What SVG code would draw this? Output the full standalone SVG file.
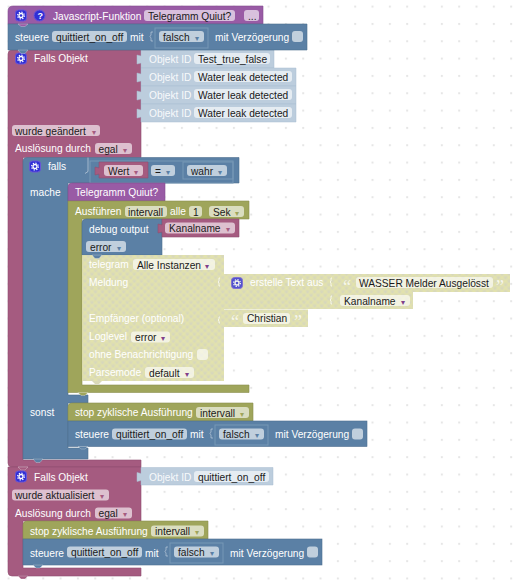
<svg xmlns="http://www.w3.org/2000/svg" width="525" height="580" viewBox="0 0 525 580">
<style>
text{font-family:"Liberation Sans",Arial,sans-serif;font-size:10.2px;fill:#fff}
text.d{fill:#1a1a1a}
.fld{fill:#fff;fill-opacity:.62}
.a{font-size:8px;font-family:"DejaVu Sans",sans-serif}
.ap{fill:#a55b80}.ab{fill:#5b80a5}.ao{fill:#9fa55b}.ay{fill:#80408a}
.pk{fill:#a55b80;stroke:#8f4f6f;stroke-width:.6}
.bl{fill:#5b80a5;stroke:#4f6f8f;stroke-width:.6}
.ol{fill:#9fa55b;stroke:#8a8f4f;stroke-width:.6}
.pu{fill:#995ba5;stroke:#854f8f;stroke-width:.6}
.lb{fill:#bccddd;stroke:#a9bdd0;stroke-width:.5}
.hat{fill:url(#h);opacity:.9}
.frame{fill:none;stroke:#7797b6;stroke-width:1}
.q{font-family:"Liberation Serif",serif;font-size:18px;fill:#fff;fill-opacity:.75}
.t{stroke:#fff;stroke-opacity:.45;stroke-width:.6}
</style>
<defs>
<pattern id="h" width="5" height="5" patternUnits="userSpaceOnUse" patternTransform="rotate(45)">
<rect width="5" height="5" fill="#d3d3b4"/>
<rect width="2.5" height="5" fill="#e4e49c" opacity=".45"/>
<rect width="5" height="2.5" fill="#e4e49c" opacity=".45"/>
</pattern>
<pattern id="g" width="17.33" height="17.33" patternUnits="userSpaceOnUse" x="7.6" y="5.6">
<rect width="2" height="2" fill="#e6e6e6"/>
</pattern>
<g id="gear">
<rect x="-5.5" y="-5.5" width="11" height="11" rx="3" fill="#2f2fd6" stroke="#6a55d8" stroke-width="1"/>
<circle r="3.4" fill="none" stroke="#fff" stroke-width="1.2" stroke-dasharray="1.3 1.37"/>
<circle r="2" fill="none" stroke="#fff" stroke-width="1.3"/>
</g>
</defs>
<rect width="525" height="580" fill="#fff"/>
<rect width="525" height="580" fill="url(#g)"/>
<g id="falls1">
<path class="pk" d="M8 54Q8 50 12 50H141V157.5H23V460H141V467H12Q8 467 8 463Z"/>
<path class="t pk" d="M18 467l3 3.5h4l3-3.5z"/>
<path class="lb" d="M141 50H274V68H141V63L137 64V55L141 56Z"/>
<path class="lb" d="M141 68H296V86H141V81L137 82V73L141 74Z"/>
<path class="lb" d="M141 86H296V104H141V99L137 100V91L141 92Z"/>
<path class="lb" d="M141 104H296V122H141V117L137 118V109L141 110Z"/>
<use href="#gear" x="21" y="58.5"/>
<text x="34" y="62">Falls Objekt</text>
<text x="149" y="62.5" opacity=".9">Objekt ID</text><rect class="fld" x="194" y="53" width="76" height="11" rx="3"/><text class="d" x="198" y="62.5">Test_true_false</text>
<text x="149" y="80.5" opacity=".9">Objekt ID</text><rect class="fld" x="194" y="71" width="98" height="11" rx="3"/><text class="d" x="198" y="80.5">Water leak detected</text>
<text x="149" y="98.5" opacity=".9">Objekt ID</text><rect class="fld" x="194" y="89" width="98" height="11" rx="3"/><text class="d" x="198" y="98.5">Water leak detected</text>
<text x="149" y="116.5" opacity=".9">Objekt ID</text><rect class="fld" x="194" y="107" width="98" height="11" rx="3"/><text class="d" x="198" y="116.5">Water leak detected</text>
<rect class="fld" x="12" y="125" width="88" height="11" rx="3"/><text x="15" y="134.5" class="d">wurde geändert<tspan class="a ap" x="92">▾</tspan></text>
<text x="15" y="152">Auslösung durch</text><rect class="fld" x="95" y="143" width="37" height="11" rx="3"/><text class="d" x="98.5" y="152.5">egal<tspan class="a ap" x="123">▾</tspan></text>
</g>
<g id="js">
<path class="pu" d="M8 11Q8 6 13 6H263V24H8Z"/>
<use href="#gear" x="21" y="15.5"/>
<circle cx="39.5" cy="15.5" r="5.5" fill="#2f2fd6" stroke="#6a55d8"/>
<text x="37.5" y="19" font-weight="bold" style="font-size:9px">?</text>
<text x="53" y="19.5">Javascript-Funktion</text>
<rect class="fld" x="144" y="10" width="91" height="11" rx="3"/><text class="d" x="148" y="19.5">Telegramm Quiut?</text>
<rect class="fld" x="244" y="10" width="15" height="11" rx="3"/><text class="d" x="248" y="19.5">...</text>
</g>
<g id="steuere1">
<path class="bl" d="M8 24H307V50H8Z"/>
<path class="t pu" d="M18 24l3 2.5h4l3-2.5z"/>
<text x="15" y="40.5">steuere</text>
<rect class="fld" x="52" y="31" width="75" height="11" rx="3"/><text class="d" x="56" y="40.5">quittiert_on_off</text>
<text x="130" y="40.5">mit</text>
<path d="M153 32h-2v3l-1 1.5 1 1.5v3h2" fill="none" stroke="#fff" stroke-opacity=".4"/>
<rect class="frame" x="155" y="28" width="53" height="20"/>
<rect class="fld" x="159" y="31" width="45" height="11" rx="3"/><text class="d" x="163" y="40.5">falsch<tspan class="a ab" x="195">▾</tspan></text>
<text x="215" y="40.5">mit Verzögerung</text>
<rect class="fld" x="292" y="31" width="11" height="11" rx="3"/>
<path class="t bl" d="M18 50l3 3.5h4l3-3.5z"/>
</g>
<g id="falls">
<path class="bl" d="M23 161Q23 157.5 27 157.5H239V183H68V395H88V403H68V448H88V459H23Z"/>
<path class="t bl" d="M33 459l3 3.5h4l3-3.5z"/>
<use href="#gear" x="35" y="166.5"/>
<text x="48" y="170">falls</text>
<path d="M88 157.5v14l-3 2" fill="none" stroke="#fff" stroke-opacity=".45"/>
<rect x="90" y="161" width="143" height="22" fill="none" stroke="#7797b6"/>
<path class="pk" d="M99 162H148V178H99V174L95 175V167L99 168Z"/>
<rect class="fld" x="104" y="165" width="39" height="11" rx="3"/><text class="d" x="108" y="174.5">Wert<tspan class="a ap" x="134">▾</tspan></text>
<rect class="fld" x="151" y="165" width="24" height="11" rx="3"/><text class="d" x="155" y="174.5">=<tspan class="a ab" x="166">▾</tspan></text>
<rect class="frame" x="183" y="162" width="50" height="17"/>
<rect class="fld" x="187" y="165" width="40" height="11" rx="3"/><text class="d" x="191" y="174.5">wahr<tspan class="a ab" x="218">▾</tspan></text>
<text x="30" y="196">mache</text><text x="30" y="416">sonst</text>
</g>
<g id="tq">
<path class="pu" d="M68 187Q68 183 72 183H165V201H68Z"/>
<text x="75" y="196">Telegramm Quiut?</text>
</g>
<g id="ausf">
<path class="ol" d="M68 201H249V219H82V385H249V392.5H68Z"/>
<path class="t ol" d="M78 392.5l3 3h4l3-3z"/>
<text x="75" y="215">Ausführen</text>
<rect class="fld" x="125" y="206" width="42" height="11" rx="3"/><text class="d" x="128" y="215.5">intervall</text>
<text x="170" y="215">alle</text>
<rect class="fld" x="189" y="206" width="13" height="11" rx="3"/><text class="d" x="193" y="215.5">1</text>
<rect class="fld" x="209" y="206" width="35" height="11" rx="3"/><text class="d" x="213" y="215.5">Sek<tspan class="a ao" x="235">▾</tspan></text>
</g>
<g id="debug">
<path class="bl" d="M86 219H162V255H82V223Q82 219 86 219Z"/>
<text x="89" y="232.5">debug output</text>
<path class="pk" d="M162 219H239V237H162V232L158 233V224L162 225Z"/>
<rect class="fld" x="165" y="222.5" width="70" height="11" rx="3"/><text class="d" x="169" y="232">Kanalname<tspan class="a ap" x="226">▾</tspan></text>
<rect class="fld" x="86" y="241" width="40" height="11" rx="3"/><text class="d" x="90" y="250.5">error<tspan class="a ab" x="117">▾</tspan></text>
</g>
<g id="tele">
<rect class="hat" x="82" y="255" width="142" height="126"/>
<path class="t bl" d="M92 255l3 3.5h4l3-3.5z"/>
<path d="M92 381l3 3h4l3-3z" fill="#d9d9b8"/>
<text x="89" y="268">telegram</text>
<rect class="fld" x="133" y="259" width="82" height="11" rx="3"/><text class="d" x="137" y="268.5">Alle Instanzen<tspan class="a ay" x="205">▾</tspan></text>
<text x="89" y="286">Meldung</text>
<text x="89" y="322">Empfänger (optional)</text>
<text x="89" y="340">Loglevel</text>
<rect class="fld" x="131" y="331.5" width="39" height="11" rx="3"/><text class="d" x="135" y="341">error<tspan class="a ay" x="161">▾</tspan></text>
<text x="89" y="358">ohne Benachrichtigung</text>
<rect class="fld" x="197" y="349" width="11" height="11" rx="3"/>
<text x="89" y="376">Parsemode</text>
<rect class="fld" x="145" y="367" width="49" height="11" rx="3"/><text class="d" x="149" y="376.5">default<tspan class="a ay" x="185">▾</tspan></text>
</g>
<g id="etxt">
<rect class="hat" x="224" y="274" width="113" height="35"/>
<use href="#gear" x="237" y="283" opacity=".8"/>
<text x="250" y="286">erstelle Text aus</text>
<rect class="hat" x="337" y="274" width="173" height="18"/>
<text class="q" x="343" y="293">“</text>
<rect class="fld" x="356" y="277" width="137" height="11" rx="3"/><text class="d" x="359" y="286.5">WASSER Melder Ausgelösst</text>
<text class="q" x="496" y="293">”</text>
<rect class="hat" x="337" y="292" width="76" height="17"/>
<rect class="fld" x="340" y="295" width="70" height="11" rx="3"/><text class="d" x="344" y="304.5">Kanalname<tspan class="a ay" x="401">▾</tspan></text>
</g>
<g id="chr">
<rect class="hat" x="224" y="309.5" width="84" height="17.5"/>
<text class="q" x="231" y="328">“</text>
<rect class="fld" x="243" y="313" width="47" height="11" rx="3"/><text class="d" x="247" y="322">Christian</text>
<text class="q" x="294" y="328">”</text>
</g>
<g id="stop1">
<path class="ol" d="M72 403H253V421H68V407Q68 403 72 403Z"/>
<text x="75" y="416">stop zyklische Ausführung</text>
<rect class="fld" x="196" y="407" width="53" height="11" rx="3"/><text class="d" x="200" y="416.5">intervall<tspan class="a ao" x="240">▾</tspan></text>
</g>
<g id="steuere2">
<rect class="bl" x="68" y="421" width="299" height="25.5"/>
<path class="t bl" d="M78 446.5l3 2.5h4l3-2.5z"/>
<text x="75" y="438">steuere</text>
<rect class="fld" x="112" y="428.5" width="75" height="11" rx="3"/><text class="d" x="116" y="438">quittiert_on_off</text>
<text x="190" y="438">mit</text>
<path d="M213 429h-2v3l-1 1.5 1 1.5v3h2" fill="none" stroke="#fff" stroke-opacity=".4"/>
<rect class="frame" x="215" y="425" width="53" height="20"/>
<rect class="fld" x="219" y="428.5" width="45" height="11" rx="3"/><text class="d" x="223" y="438">falsch<tspan class="a ab" x="255">▾</tspan></text>
<text x="275" y="438">mit Verzögerung</text>
<rect class="fld" x="352" y="428.5" width="11" height="11" rx="3"/>
</g>
<g id="falls2">
<path class="pk" d="M8 467H141V521H23V568H141V576H12Q8 576 8 572Z"/>
<path class="t pk" d="M18 467l3 3h4l3-3z"/>
<path class="t pk" d="M18 576l3 3h4l3-3z"/>
<use href="#gear" x="21" y="476.5"/>
<text x="34" y="480.5">Falls Objekt</text>
<path class="lb" d="M141 467.5H273V485H141V480.5L137 481.5V472.5L141 473.5Z"/>
<text x="149" y="480.5" opacity=".9">Objekt ID</text>
<rect class="fld" x="194" y="471" width="75" height="11" rx="3"/><text class="d" x="198" y="480.5">quittiert_on_off</text>
<rect class="fld" x="12" y="489.5" width="97" height="11" rx="3"/><text class="d" x="15" y="499">wurde aktualisiert<tspan class="a ap" x="100">▾</tspan></text>
<text x="15" y="516.5">Auslösung durch</text>
<rect class="fld" x="95" y="507.5" width="37" height="11" rx="3"/><text class="d" x="98.5" y="517">egal<tspan class="a ap" x="123">▾</tspan></text>
</g>
<g id="stop2">
<path class="ol" d="M27 521H208V539H23V525Q23 521 27 521Z"/>
<text x="30" y="534.5">stop zyklische Ausführung</text>
<rect class="fld" x="151" y="525.5" width="53" height="11" rx="3"/><text class="d" x="155" y="535">intervall<tspan class="a ao" x="195">▾</tspan></text>
</g>
<g id="steuere3">
<rect class="bl" x="23" y="539" width="299" height="26"/>
<path class="t bl" d="M33 565l3 3h4l3-3z"/>
<text x="30" y="556.5">steuere</text>
<rect class="fld" x="67" y="546.5" width="75" height="11" rx="3"/><text class="d" x="71" y="556">quittiert_on_off</text>
<text x="145" y="556.5">mit</text>
<path d="M168 547h-2v3l-1 1.5 1 1.5v3h2" fill="none" stroke="#fff" stroke-opacity=".4"/>
<rect class="frame" x="170" y="543" width="53" height="20"/>
<rect class="fld" x="174" y="546.5" width="45" height="11" rx="3"/><text class="d" x="178" y="556">falsch<tspan class="a ab" x="210">▾</tspan></text>
<text x="230" y="556.5">mit Verzögerung</text>
<rect class="fld" x="307" y="546.5" width="11" height="11" rx="3"/>
</g>
<g id="connectors" fill="none" stroke="#fff" stroke-opacity=".7" stroke-width="1">
<path d="M220 278h-1v3l-1 1 1 1v3h1M220 317h-1v2l-1 1 1 1v2h1M332 278h-1v3l-1 1 1 1v3h1M332 296h-1v3l-1 1 1 1v3h1"/>
</g>
</svg>
